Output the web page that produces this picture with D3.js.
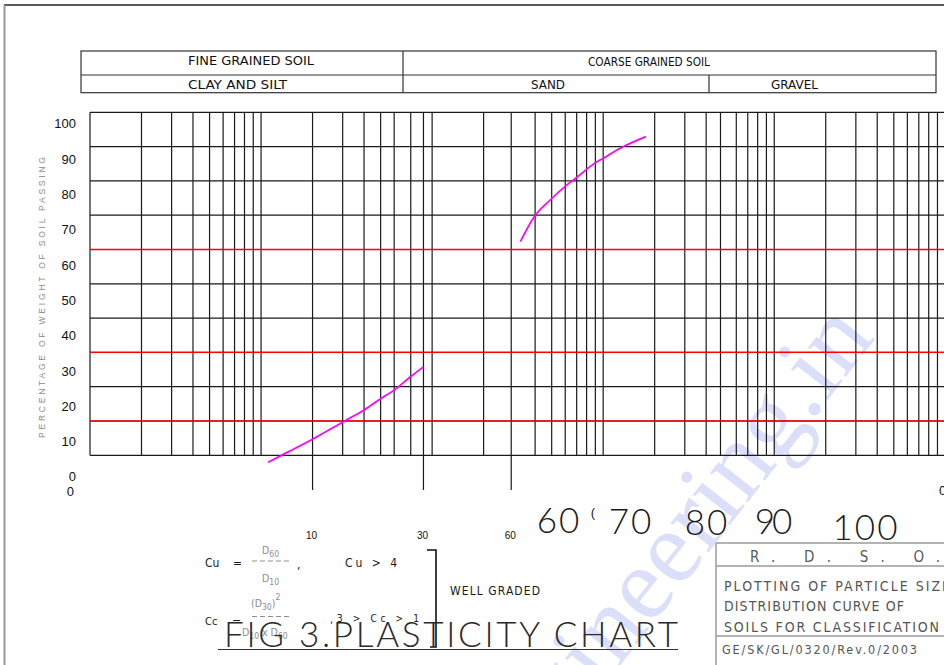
<!DOCTYPE html>
<html>
<head>
<meta charset="utf-8">
<script src="https://cdn.jsdelivr.net/npm/d3@7/dist/d3.min.js"></script>
<style>
  html, body { margin: 0; padding: 0; background: #fff; }
  svg { display: block; }
</style>
</head>
<body>
<svg id="chart" width="944" height="665"></svg>
<script>
// ---------------- DATA ----------------
const headerTop = ["FINE GRAINED SOIL", "COARSE GRAINED SOIL"];
const headerBottom = ["CLAY AND SILT", "SAND", "GRAVEL"];

const yTickValues = [100, 90, 80, 70, 60, 50, 40, 30, 20, 10, 0];
const horizontalGrid = [0, 10, 20, 30, 40, 50, 60, 70, 80, 90, 100];
const redLevels = [10, 30, 60];

// vertical grid lines of the 5-cycle log paper (grain size, mm), as drawn
const verticalGrid = [
  0.001, 0.002, 0.003, 0.004, 0.005, 0.006, 0.007, 0.008, 0.009,
  0.01, 0.02, 0.03, 0.04, 0.05, 0.06, 0.075, 0.089,
  0.1, 0.2, 0.29, 0.4, 0.5, 0.6, 0.7, 0.8, 0.9,
  1, 2, 3, 4, 4.85, 6, 7, 8, 9,
  10, 20, 30, 40, 50, 60, 70, 80, 90, 100
];
const dropTicks = [0.02, 0.089, 0.29];
const dropLabels = ["10", "30", "60"];

const lowerCurveX = [0.011, 0.0144, 0.02, 0.0303, 0.04, 0.05, 0.06, 0.0747, 0.089];
const lowerCurveY = [-2.0, 1.0, 4.7, 9.8, 13.2, 16.5, 19.0, 22.9, 25.8];
const upperCurveX = [0.328, 0.396, 0.4985, 0.602, 0.7075, 0.889, 1.0, 1.314, 1.777];
const upperCurveY = [62.3, 69.6, 74.8, 78.5, 81.2, 85.1, 86.6, 90.0, 92.9];

const bigLabels = ["60", "70", "80", "90", "100"];
const titleText = "FIG 3.PLASTICITY CHART";
const yTitle = "PERCENTAGE OF WEIGHT OF SOIL PASSING";
const blockLines = ["PLOTTING OF PARTICLE SIZE", "DISTRIBUTION CURVE OF", "SOILS FOR CLASSIFICATION"];
const blockHead = "R.   D.   S.   O.";
const blockRef = "GE/SK/GL/0320/Rev.0/2003";

// ---------------- LAYOUT ----------------
const svg = d3.select("#chart");
svg.append("rect").attr("width", 944).attr("height", 665).attr("fill", "#fff");

const plot = { left: 90, right: 945.3, top: 112.3, bottom: 455.3 };
const x = d3.scaleLog().domain([0.001, 100]).range([plot.left, plot.right]);
const y = d3.scaleLinear().domain([0, 100]).range([plot.bottom, plot.top]);
const yLabel = d3.scaleLinear().domain([0, 100]).range([478, 125]);

const sans = "'Liberation Sans', Arial, sans-serif";
const cad = "'DejaVu Sans Condensed', 'DejaVu Sans', sans-serif";
const light = "Lato, 'Open Sans', sans-serif";

// watermark
svg.append("text")
  .attr("transform", "translate(876,338) rotate(-52)")
  .attr("text-anchor", "end")
  .attr("font-family", "'Liberation Serif', 'DejaVu Serif', serif")
  .attr("font-size", 104)
  .attr("fill", "#dcdff9")
  .text("engineering.in");

// outer frame
svg.append("line").attr("x1", 4).attr("x2", 944).attr("y1", 5).attr("y2", 5)
  .attr("stroke", "#222").attr("stroke-width", 1.3);
svg.append("line").attr("x1", 4.5).attr("x2", 4.5).attr("y1", 5).attr("y2", 665)
  .attr("stroke", "#999").attr("stroke-width", 2);

// header table
const hdr = svg.append("g").attr("stroke", "#333").attr("stroke-width", 1.2).attr("fill", "none");
hdr.append("rect").attr("x", 81).attr("y", 51).attr("width", 855).attr("height", 41.7);
hdr.append("line").attr("x1", 81).attr("x2", 936).attr("y1", 75).attr("y2", 75);
hdr.append("line").attr("x1", 403).attr("x2", 403).attr("y1", 51).attr("y2", 92.7);
hdr.append("line").attr("x1", 709).attr("x2", 709).attr("y1", 75).attr("y2", 92.7);

const hdrTopPos = [[251, 61.5, 126], [649, 62.5, 122]];
const hdrBotPos = [[237.5, 85.5, 99], [548, 85.5, 34], [794.5, 85.5, 47]];
svg.selectAll(".ht").data(headerTop).join("text")
  .attr("x", (d, i) => hdrTopPos[i][0] - hdrTopPos[i][2] / 2)
  .attr("y", (d, i) => hdrTopPos[i][1])
  .attr("textLength", (d, i) => hdrTopPos[i][2]).attr("lengthAdjust", "spacingAndGlyphs")
  .attr("dominant-baseline", "middle")
  .attr("font-family", cad).attr("font-size", 12.5).attr("fill", "#111")
  .text(d => d);
svg.selectAll(".hb").data(headerBottom).join("text")
  .attr("x", (d, i) => hdrBotPos[i][0] - hdrBotPos[i][2] / 2)
  .attr("y", (d, i) => hdrBotPos[i][1])
  .attr("textLength", (d, i) => hdrBotPos[i][2]).attr("lengthAdjust", "spacingAndGlyphs")
  .attr("dominant-baseline", "middle")
  .attr("font-family", cad).attr("font-size", 12.5).attr("fill", "#111")
  .text(d => d);

// grid
const grid = svg.append("g");
grid.selectAll(".hg").data(horizontalGrid).join("line")
  .attr("x1", plot.left).attr("x2", 944)
  .attr("y1", d => y(d)).attr("y2", d => y(d))
  .attr("stroke", "#1a1a1a").attr("stroke-width", 1.2);
grid.selectAll(".vg").data(verticalGrid).join("line")
  .attr("x1", d => x(d)).attr("x2", d => x(d))
  .attr("y1", plot.top).attr("y2", plot.bottom)
  .attr("stroke", "#1a1a1a").attr("stroke-width", 1.2);
grid.selectAll(".dt").data(dropTicks).join("line")
  .attr("x1", d => x(d)).attr("x2", d => x(d))
  .attr("y1", plot.bottom).attr("y2", 490)
  .attr("stroke", "#1a1a1a").attr("stroke-width", 1.2);
grid.selectAll(".rl").data(redLevels).join("line")
  .attr("x1", plot.left).attr("x2", 944)
  .attr("y1", d => y(d)).attr("y2", d => y(d))
  .attr("stroke", "#ff0000").attr("stroke-width", 1.3);

// y labels
svg.selectAll(".yl").data(yTickValues).join("text")
  .attr("x", 76).attr("y", d => yLabel(d))
  .attr("text-anchor", "end").attr("dominant-baseline", "middle")
  .attr("font-family", sans).attr("font-size", 13).attr("fill", "#111")
  .text(d => d);
svg.append("text").attr("x", 74).attr("y", 492.5)
  .attr("text-anchor", "end").attr("dominant-baseline", "middle")
  .attr("font-family", sans).attr("font-size", 13).attr("fill", "#111").text("0");
svg.append("text").attr("x", 939).attr("y", 492)
  .attr("dominant-baseline", "middle")
  .attr("font-family", sans).attr("font-size", 13).attr("fill", "#111").text("0");

// y title
svg.append("text")
  .attr("transform", "translate(45,297.5) rotate(-90)")
  .attr("x", -140.5).attr("textLength", 281).attr("lengthAdjust", "spacing")
  .attr("font-family", sans).attr("font-size", 8.5).attr("fill", "#8a8a8a")
  .text(yTitle);

// drop tick labels
svg.selectAll(".dl").data(dropLabels).join("text")
  .attr("x", (d, i) => x(dropTicks[i]) - 1).attr("y", 536)
  .attr("text-anchor", "middle").attr("dominant-baseline", "middle")
  .attr("font-family", sans).attr("font-size", 10).attr("fill", "#111")
  .text(d => d);

// curves
const line = d3.line().x(d => x(d[0])).y(d => y(d[1])).curve(d3.curveMonotoneX);
[[lowerCurveX, lowerCurveY], [upperCurveX, upperCurveY]].forEach(([xs, ys]) => {
  svg.append("path")
    .datum(xs.map((v, i) => [v, ys[i]]))
    .attr("d", line)
    .attr("fill", "none").attr("stroke", "#ff00ff").attr("stroke-width", 1.7);
});

// big labels
const bigPos = [[559, 533], [631, 534], [707, 535], [772, 534], [866, 540]];
svg.selectAll(".bl").data(bigLabels).join("text")
  .attr("x", (d, i) => bigPos[i][0]).attr("y", (d, i) => bigPos[i][1])
  .attr("text-anchor", "middle")
  .attr("font-family", light).attr("font-weight", 300).attr("font-size", 35)
  .attr("letter-spacing", (d, i) => i === 3 ? -3 : 2)
  .attr("fill", "#1a1a1a")
  .text(d => d);
svg.append("text").attr("x", 593).attr("y", 517).attr("text-anchor", "middle")
  .attr("font-family", sans).attr("font-size", 13).attr("fill", "#222").text("(");

// formulas
const fm = svg.append("g").attr("font-family", cad);
const black = (t, xx, yy, fs, w) => {
  const el = fm.append("text").attr("x", xx).attr("y", yy).attr("font-size", fs || 12).attr("fill", "#1a1a1a").text(t);
  if (w) el.attr("textLength", w).attr("lengthAdjust", "spacing");
  return el;
};
const gray = "#8d8d8d";
black("Cu", 205, 567); black("=", 233, 567);
black(",", 297, 569);
black("Cu  >  4", 345, 567, 12, 52);
black("WELL GRADED", 450, 595, 12, 90);
black("Cc", 205, 625, 11); black("=", 232, 625);
black("3 > Cc > 1", 337, 622, 10, 82);
black(",", 330, 623, 11);
// fraction parts (gray)
const sub = (base, s, xx, yy) => {
  const t = fm.append("text").attr("x", xx).attr("y", yy).attr("font-size", 10.5).attr("fill", gray);
  t.append("tspan").text(base);
  t.append("tspan").attr("font-size", 8.5).attr("dy", 3).text(s);
  return t;
};
sub("D", "60", 262, 554);
sub("D", "10", 262, 582);
const d30 = fm.append("text").attr("x", 251).attr("y", 607).attr("font-size", 10.5).attr("fill", gray);
d30.append("tspan").text("(D");
d30.append("tspan").attr("font-size", 8.5).attr("dy", 3).text("30");
d30.append("tspan").attr("dy", -3).text(")");
d30.append("tspan").attr("font-size", 8.5).attr("dy", -7).text("2");
const dd = fm.append("text").attr("x", 242).attr("y", 636).attr("font-size", 10.5).attr("fill", gray);
dd.append("tspan").text("D");
dd.append("tspan").attr("font-size", 8.5).attr("dy", 3).text("10");
dd.append("tspan").attr("dy", -3).text(" x ");
dd.append("tspan").text("D");
dd.append("tspan").attr("font-size", 8.5).attr("dy", 3).text("60");
[561, 616.5].forEach(yy => fm.append("line").attr("x1", 252).attr("x2", 290).attr("y1", yy).attr("y2", yy)
  .attr("stroke", gray).attr("stroke-width", 1.2).attr("stroke-dasharray", "5,3"));
// bracket
svg.append("path").attr("d", "M427,550H436V647H430").attr("fill", "none")
  .attr("stroke", "#111").attr("stroke-width", 1.6);

// title
svg.append("text").attr("x", 224).attr("y", 647)
  .attr("textLength", 454).attr("lengthAdjust", "spacing")
  .attr("font-family", light).attr("font-weight", 300).attr("font-size", 35)
  .attr("fill", "#2a2a2a").text(titleText);
svg.append("line").attr("x1", 218).attr("x2", 678).attr("y1", 649.5).attr("y2", 649.5)
  .attr("stroke", "#333").attr("stroke-width", 1.2);

// title block
const tb = svg.append("g").attr("stroke", "#9a9a9a").attr("stroke-width", 1.5).attr("fill", "none");
tb.append("line").attr("x1", 716).attr("x2", 944).attr("y1", 543).attr("y2", 543);
tb.append("line").attr("x1", 716).attr("x2", 944).attr("y1", 566).attr("y2", 566);
tb.append("line").attr("x1", 716).attr("x2", 944).attr("y1", 636).attr("y2", 636);
tb.append("line").attr("x1", 716).attr("x2", 716).attr("y1", 543).attr("y2", 665);
svg.append("text").attr("x", 750).attr("y", 562).attr("textLength", 190).attr("lengthAdjust", "spacing")
  .attr("font-family", cad).attr("font-size", 15).attr("fill", "#5a5a5a").text(blockHead);
const blockPos = [[591, 226], [611, 180], [632, 215]];
svg.selectAll(".bk").data(blockLines).join("text")
  .attr("x", 724).attr("y", (d, i) => blockPos[i][0])
  .attr("textLength", (d, i) => blockPos[i][1]).attr("lengthAdjust", "spacing")
  .attr("font-family", cad).attr("font-size", 14).attr("fill", "#555")
  .text(d => d);
svg.append("text").attr("x", 722).attr("y", 654).attr("textLength", 195).attr("lengthAdjust", "spacing")
  .attr("font-family", cad).attr("font-size", 12.5).attr("fill", "#555").text(blockRef);
</script>
</body>
</html>
